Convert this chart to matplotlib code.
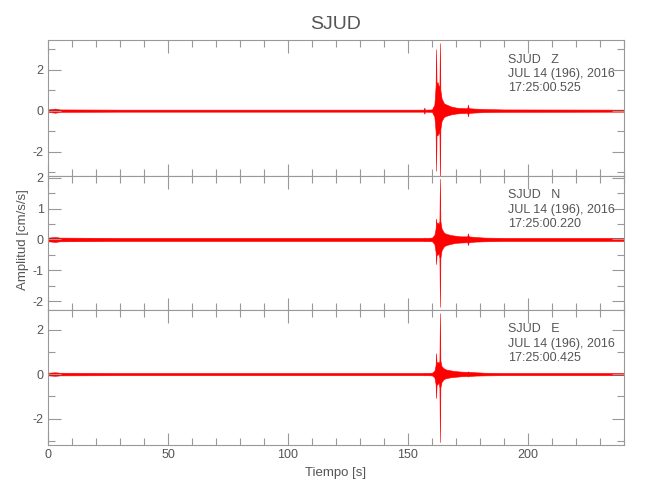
import matplotlib
matplotlib.use('Agg')
import matplotlib.pyplot as plt
from matplotlib.ticker import MultipleLocator

plt.rcParams['font.family'] = ['Liberation Sans', 'DejaVu Sans']
plt.rcParams['axes.unicode_minus'] = False

# Envelope of each trace (upper / lower amplitude)
times = [0, 3, 5, 30, 60, 100, 140, 156.5, 156.8, 157.1, 160, 161, 161.5, 161.7,
         161.9, 162.3, 162.8, 163.1, 163.3, 163.5, 164, 165, 166, 168, 170, 172,
         174.7, 175, 175.3, 178, 182, 190, 240]

z_up = [0.06, 0.10, 0.06, 0.05, 0.05, 0.05, 0.05, 0.05, 0.15, 0.05, 0.06, 0.30, 1.2, 3.0,
        1.3, 1.4, 1.2, 1.2, 3.3, 1.0, 0.6, 0.35, 0.30, 0.20, 0.15, 0.13,
        0.12, 0.30, 0.12, 0.10, 0.08, 0.06, 0.05]
z_lo = [-0.06, -0.10, -0.06, -0.05, -0.05, -0.05, -0.05, -0.05, -0.15, -0.05, -0.06, -0.30, -1.0, -2.94,
        -1.2, -1.2, -1.1, -1.0, -3.4, -0.9, -0.5, -0.30, -0.25, -0.18, -0.14, -0.12,
        -0.11, -0.28, -0.11, -0.09, -0.07, -0.06, -0.05]

n_up = [0.06, 0.08, 0.06, 0.05, 0.05, 0.05, 0.05, 0.05, 0.06, 0.05, 0.06, 0.15, 0.35, 0.68,
        0.50, 0.55, 0.50, 0.60, 1.97, 0.60, 0.35, 0.22, 0.18, 0.14, 0.12, 0.10,
        0.10, 0.20, 0.10, 0.08, 0.06, 0.05, 0.05]
n_lo = [-0.06, -0.08, -0.06, -0.05, -0.05, -0.05, -0.05, -0.05, -0.06, -0.05, -0.06, -0.15, -0.40, -0.80,
        -0.50, -0.50, -0.45, -0.60, -2.19, -0.60, -0.35, -0.22, -0.18, -0.14, -0.11, -0.10,
        -0.09, -0.18, -0.09, -0.07, -0.06, -0.05, -0.05]

e_up = [0.06, 0.08, 0.06, 0.05, 0.05, 0.05, 0.05, 0.05, 0.06, 0.05, 0.06, 0.15, 0.40, 0.94,
        0.50, 0.55, 0.50, 0.60, 2.74, 0.60, 0.35, 0.25, 0.20, 0.16, 0.13, 0.11,
        0.10, 0.12, 0.10, 0.08, 0.06, 0.05, 0.05]
e_lo = [-0.06, -0.08, -0.06, -0.05, -0.05, -0.05, -0.05, -0.05, -0.06, -0.05, -0.06, -0.15, -0.45, -1.08,
        -0.50, -0.45, -0.40, -0.60, -3.06, -0.60, -0.35, -0.22, -0.18, -0.14, -0.12, -0.10,
        -0.09, -0.11, -0.09, -0.07, -0.06, -0.05, -0.05]

channels = ['Z', 'N', 'E']
start_times = ['17:25:00.525', '17:25:00.220', '17:25:00.425']
uppers = [z_up, n_up, e_up]
lowers = [z_lo, n_lo, e_lo]
ylims = [(-3.19, 3.45), (-2.29, 2.06), (-3.19, 2.88)]
y_major = [2, 1, 2]
y_minor = [1, 0.5, 1]

gray_txt = '#555555'
gray_ax = '#999999'

fig = plt.figure(figsize=(6.5, 5), dpi=100)
boxes = [(0.0738, 0.648, 0.8862, 0.272),
         (0.0738, 0.380, 0.8862, 0.268),
         (0.0738, 0.110, 0.8862, 0.270)]

axes = []
for i, box in enumerate(boxes):
    ax = fig.add_axes(box)
    ax.fill_between(times, lowers[i], uppers[i], color='red', lw=0.4)
    ax.set_xlim(0, 240)
    ax.set_ylim(*ylims[i])
    ax.xaxis.set_major_locator(MultipleLocator(50))
    ax.xaxis.set_minor_locator(MultipleLocator(10))
    ax.yaxis.set_major_locator(MultipleLocator(y_major[i]))
    ax.yaxis.set_minor_locator(MultipleLocator(y_minor[i]))
    ax.tick_params(which='both', direction='in', top=True, right=True,
                   colors=gray_ax, labelcolor=gray_txt, labelsize=9, width=0.8, pad=3)
    ax.tick_params(which='major', length=9)
    ax.tick_params(which='minor', length=5)
    for s in ax.spines.values():
        s.set_color(gray_ax)
        s.set_linewidth(0.8)
    if i < 2:
        ax.tick_params(labelbottom=False)
    ax.text(0.799, 0.90, 'SJUD   ' + channels[i] + '\nJUL 14 (196), 2016\n' + start_times[i],
            transform=ax.transAxes, ha='left', va='top', fontsize=9,
            color=gray_txt, linespacing=1.25)
    axes.append(ax)

axes[0].set_title('SJUD', color=gray_txt, fontsize=14, pad=8)
axes[2].set_xlabel('Tiempo [s]', color=gray_txt, fontsize=9.5)
fig.text(0.036, 0.52, 'Amplitud [cm/s/s]', rotation=90, ha='center', va='center',
         color=gray_txt, fontsize=9.5)

plt.savefig('out.png', dpi=100)
